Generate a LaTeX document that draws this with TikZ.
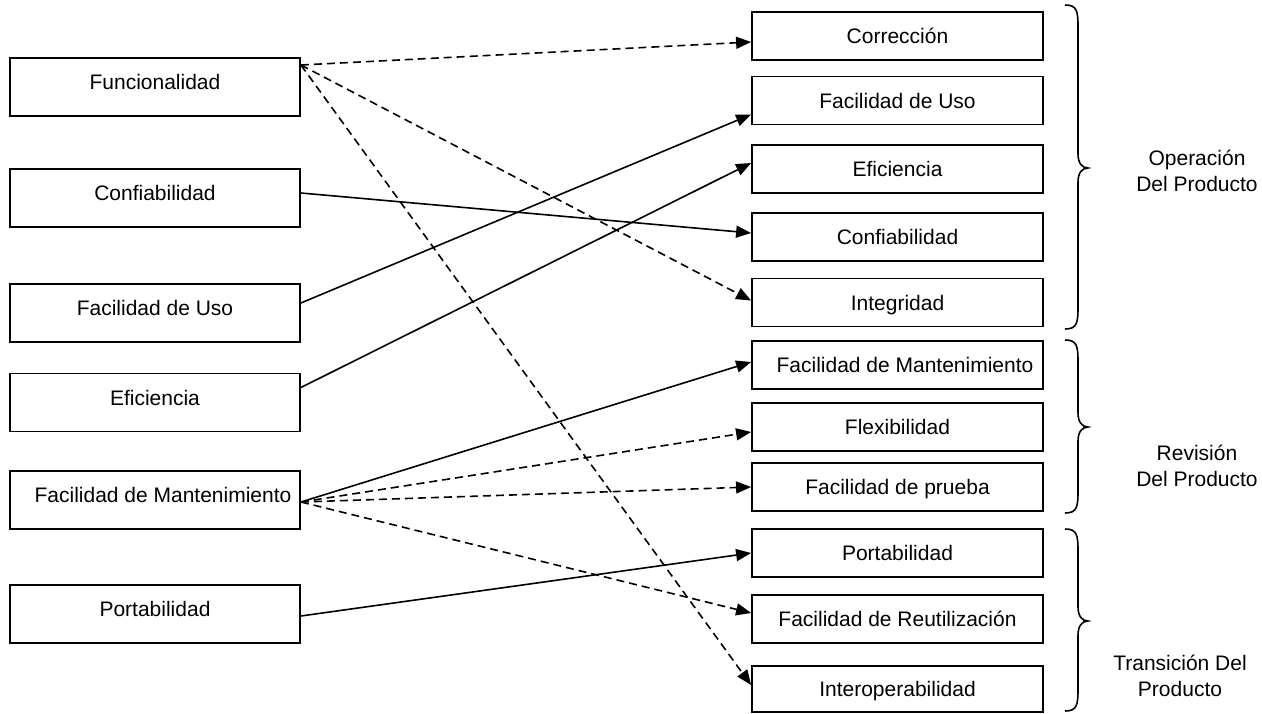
\documentclass[tikz,border=0pt]{standalone}
\usepackage{fontspec}
\setmainfont{Liberation Sans}
\usetikzlibrary{arrows.meta,calc}
\newcommand\mybrace[3]{%
  \draw[bracestyle] (1065,#1) .. controls (1077,#1) and (1078,{#1+6}) .. (1078,{#1+22})
    -- (1078,{#2-14}) .. controls (1078,{#2-5}) and (1082,#2) .. (1088,#2)
    .. controls (1082,#2) and (1078,{#2+5}) .. (1078,{#2+14})
    -- (1078,{#3-22}) .. controls (1078,{#3-6}) and (1077,#3) .. (1065,#3);}
\begin{document}
\begin{tikzpicture}[x=1pt,y=-1pt,
  every node/.style={font=\fontsize{21}{26}\selectfont},
  lbox/.style={draw, line width=1.8pt, minimum width=290pt, minimum height=58pt, inner sep=0pt, text height=15pt, text depth=10pt},
  rbox/.style={draw, line width=1.8pt, minimum width=291pt, minimum height=48pt, inner sep=0pt, text height=15pt, text depth=0pt},
  link/.style={line width=1.6pt, -{Triangle[length=15pt,width=12pt]}},
  dlink/.style={link, dash pattern=on 8pt off 5pt},
  bracestyle/.style={line width=1.6pt},
  grp/.style={align=center}
]
\useasboundingbox (0,0) rectangle (1262,713);

% left boxes
\node[lbox] (L1) at (155,87)    {Funcionalidad};
\node[lbox] (L2) at (155,198)   {Confiabilidad};
\node[lbox] (L3) at (155,313)   {Facilidad de Uso};
\node[lbox] (L4) at (155,402.5) {Eficiencia};
\node[lbox] (L5) at (155,500)   {\hspace*{16pt}Facilidad de Mantenimiento};
\node[lbox] (L6) at (155,614)   {Portabilidad};

% right boxes
\node[rbox] (R1)  at (897.5,36)    {Corrección};
\node[rbox] (R2)  at (897.5,100.5) {Facilidad de Uso};
\node[rbox] (R3)  at (897.5,169)   {Eficiencia};
\node[rbox] (R4)  at (897.5,237)   {Confiabilidad};
\node[rbox] (R5)  at (897.5,302.5) {Integridad};
\node[rbox] (R6)  at (897.5,365)   {\hspace*{15pt}Facilidad de Mantenimiento};
\node[rbox] (R7)  at (897.5,427)   {Flexibilidad};
\node[rbox] (R8)  at (897.5,487)   {Facilidad de prueba};
\node[rbox] (R9)  at (897.5,553)   {Portabilidad};
\node[rbox] (R10) at (897.5,619)   {Facilidad de Reutilización};
\node[rbox, minimum height=46pt] (R11) at (897.5,689) {Interoperabilidad};

% connectors
\draw[dlink] ($(L1.east)+(0,-22)$) -- ($(R1.west)+(0,6)$);
\draw[dlink] ($(L1.east)+(0,-22)$) -- ($(R5.west)+(0,-2)$);
\draw[dlink] ($(L1.east)+(0,-22)$) -- ($(R11.west)+(0,-4)$);
\draw[link]  ($(L2.east)+(0,-5)$)  -- ($(R4.west)+(0,-4)$);
\draw[link]  ($(L3.east)+(0,-10)$) -- ($(R2.west)+(0,14)$);
\draw[link]  ($(L4.east)+(0,-15)$) -- ($(R3.west)+(0,-6)$);
\draw[link]  ($(L5.east)+(0,2)$)   -- ($(R6.west)+(0,-3)$);
\draw[dlink] ($(L5.east)+(0,2)$)   -- ($(R7.west)+(0,5)$);
\draw[dlink] ($(L5.east)+(0,2)$)   -- (R8.west);
\draw[dlink] ($(L5.east)+(0,2)$)   -- ($(R10.west)+(0,-6)$);
\draw[link]  ($(L6.east)+(0,2)$)   -- (R9.west);

% braces
\mybrace{5}{168}{329}
\mybrace{340}{427}{513}
\mybrace{529}{621}{711}

\node[grp] (G1) at (1197,171) {Operación\\Del Producto};
\node[grp] (G2) at (1197,466) {Revisión\\Del Producto};
\node[grp] (G3) at (1180,676) {Transición Del\\Producto};
\end{tikzpicture}
\end{document}
